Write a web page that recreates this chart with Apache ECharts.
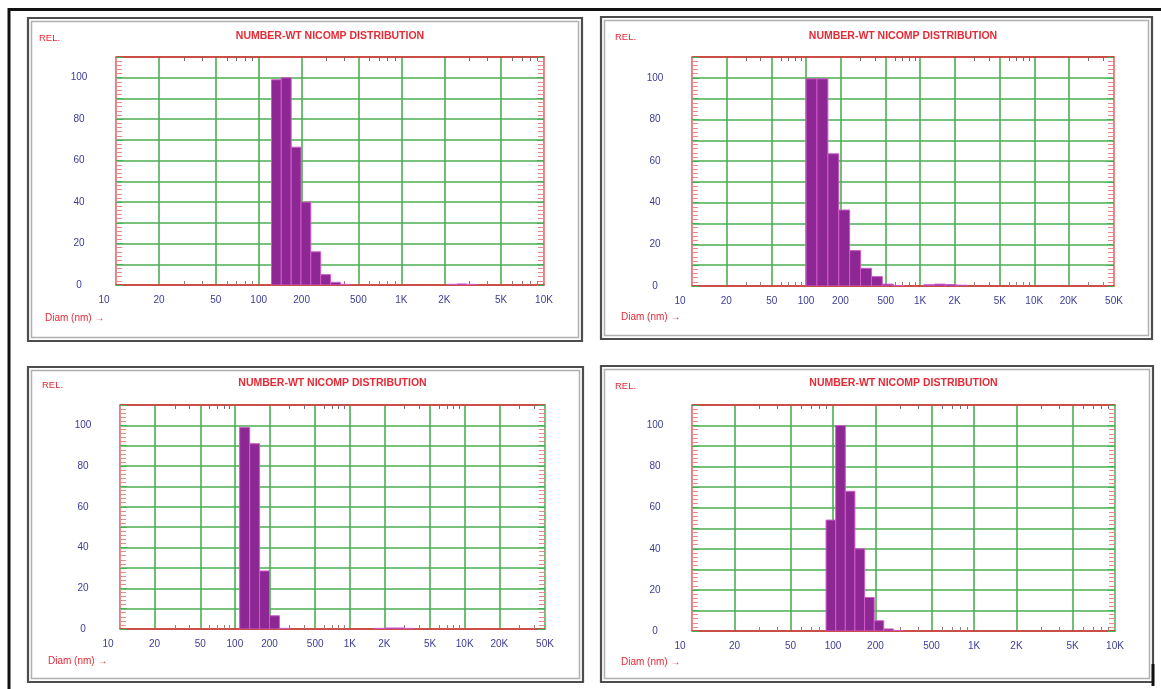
<!DOCTYPE html>
<html><head><meta charset="utf-8">
<script src="https://cdn.jsdelivr.net/npm/echarts@6/dist/echarts.min.js"></script>
<style>html,body{margin:0;padding:0;background:#fff}#c{width:1161px;height:689px}</style>
</head><body><div id="c"></div>
<script>
// ---------- texts ----------
const titleText = 'NUMBER-WT NICOMP DISTRIBUTION';
const yNameText = 'REL.';
const xNameText = 'Diam (nm) \u2192';

// ---------- tick labels ----------
const yTickLabels = [0, 20, 40, 60, 80, 100];
const xTicksTo10K = [10, 20, 50, 100, 200, 500, 1000, 2000, 5000, 10000];
const xTicksTo50K = [10, 20, 50, 100, 200, 500, 1000, 2000, 5000, 10000, 20000, 50000];

// ---------- panel 1 (top-left) : diameter bin edges (nm) and relative values ----------
const p1Edges = [123, 144, 169, 198, 232, 272, 319, 374, 438];
const p1Values = [99, 100, 66.5, 40, 16, 5, 1.3, 0.3];
const p1TailEdges = [2090, 2450, 2870, 3360];
const p1TailValues = [0.3, 0.5, 0.3];

// ---------- panel 2 (top-right) ----------
const p2Edges = [100, 124.6, 155.3, 193.5, 241, 300, 374, 466, 581, 724];
const p2Values = [99.5, 99.5, 63.5, 36.5, 17, 8.5, 4.5, 0.9, 0.2];
const p2TailEdges = [1070, 1333, 1661, 2070, 2580];
const p2TailValues = [0.6, 0.9, 0.7, 0.4];

// ---------- panel 3 (bottom-left) ----------
const p3Edges = [110, 134.5, 164, 200, 244, 298];
const p3Values = [99, 91, 28.5, 6.5, 0.3];
const p3TailEdges = [1630, 1990, 2430, 2960, 3610];
const p3TailValues = [0.3, 0.5, 0.5, 0.3];

// ---------- panel 4 (bottom-right) ----------
const p4Edges = [89.3, 104.5, 122.3, 143, 167.5, 196, 229, 268, 314];
const p4Values = [54, 100, 68, 40, 16.3, 5, 1, 0.2];
const p4TailEdges = [];
const p4TailValues = [];

// ---------- layout / style ----------
const FONT = '"Liberation Sans", Arial, sans-serif';
const RED = '#e62a36';
const BLUE = '#3c3c98';
const GREEN = '#4cae52';

const panels = [
  {edges: p1Edges, vals: p1Values, tEdges: p1TailEdges, tVals: p1TailValues, max: 10000, ticks: xTicksTo10K,
   grid: {left: 116, top: 57, width: 428, height: 228}, frame: [28, 18, 582, 341],
   relPos: [39, 38], diamPos: [45, 318], titleY: 36},
  {edges: p2Edges, vals: p2Values, tEdges: p2TailEdges, tVals: p2TailValues, max: 50000, ticks: xTicksTo50K,
   grid: {left: 692, top: 57, width: 422, height: 229}, frame: [601, 17, 1152, 339],
   relPos: [615, 37], diamPos: [621, 317], titleY: 36},
  {edges: p3Edges, vals: p3Values, tEdges: p3TailEdges, tVals: p3TailValues, max: 50000, ticks: xTicksTo50K,
   grid: {left: 120, top: 405, width: 425, height: 224}, frame: [28, 367, 583, 682],
   relPos: [42, 385], diamPos: [48, 661], titleY: 383},
  {edges: p4Edges, vals: p4Values, tEdges: p4TailEdges, tVals: p4TailValues, max: 10000, ticks: xTicksTo10K,
   grid: {left: 692, top: 405, width: 423, height: 226}, frame: [601, 366, 1153, 682],
   relPos: [615, 386], diamPos: [621, 662], titleY: 383}
];

function minorTicks(max) {
  const out = [];
  for (let d = 10; d < max; d *= 10) {
    [3, 4, 6, 7, 8, 9].forEach(m => { if (m * d < max) out.push(m * d); });
  }
  return out;
}
function fmtDiam(v) {
  if (v === 10) return '{first|10}';
  return v >= 1000 ? (v / 1000) + 'K' : String(v);
}
function binsOf(edges, vals) {
  const out = [];
  for (let i = 0; i < vals.length; i++) out.push([edges[i], edges[i + 1], vals[i]]);
  return out;
}

const grids = [], xAxes = [], yAxes = [], series = [], graphics = [];

panels.forEach((p, i) => {
  grids.push(Object.assign({show: false}, p.grid));
  const minors = minorTicks(p.max);
  // main bottom axis: labels + vertical grid lines
  xAxes.push({
    type: 'log', logBase: 10, min: 10, max: p.max, gridIndex: i, position: 'bottom',
    axisLine: {show: true, onZero: false, lineStyle: {color: RED, width: 1.5}},
    axisTick: {show: false, customValues: p.ticks},
    axisLabel: {customValues: p.ticks, formatter: fmtDiam, color: BLUE, fontSize: 10, fontFamily: FONT, margin: 10,
      rich: {first: {color: BLUE, fontSize: 10, fontFamily: FONT, padding: [0, 24, 0, 0]}}},
    splitLine: {show: true, lineStyle: {color: GREEN, width: 1.6}},
    minorTick: {show: false}, minorSplitLine: {show: false}
  });
  // bottom minor ticks
  xAxes.push({
    type: 'log', logBase: 10, min: 10, max: p.max, gridIndex: i, position: 'bottom',
    axisLine: {show: false},
    axisTick: {show: true, inside: true, length: 4, customValues: minors, lineStyle: {color: '#a07878'}},
    axisLabel: {show: false}, splitLine: {show: false}
  });
  // top edge with minor ticks
  xAxes.push({
    type: 'log', logBase: 10, min: 10, max: p.max, gridIndex: i, position: 'top',
    axisLine: {show: true, onZero: false, lineStyle: {color: RED, width: 1.5}},
    axisTick: {show: true, inside: true, length: 4, customValues: minors, lineStyle: {color: '#7a6a6a'}},
    axisLabel: {show: false}, splitLine: {show: false}
  });
  const yCommon = {
    type: 'value', min: 0, max: 110, interval: 10, gridIndex: i,
    axisLine: {show: true, onZero: false, lineStyle: {color: '#f08c8c', width: 1}},
    axisTick: {show: true, inside: true, length: 7, lineStyle: {color: GREEN}},
    minorTick: {show: true, splitNumber: 5, length: 6, lineStyle: {color: '#e58a8a'}}
  };
  yAxes.push(Object.assign({}, yCommon, {
    position: 'left',
    axisLabel: {color: BLUE, fontSize: 10, fontFamily: FONT, align: 'center', margin: 37,
      formatter: v => (yTickLabels.indexOf(v) >= 0 ? String(v) : '')},
    splitLine: {show: true, lineStyle: {color: GREEN, width: 1.6}}
  }));
  yAxes.push(Object.assign({}, yCommon, {
    position: 'right', axisLabel: {show: false}, splitLine: {show: false}
  }));

  const renderBar = (params, api) => {
    const a = api.coord([api.value(0), 0]);
    const b = api.coord([api.value(1), api.value(2)]);
    return {type: 'rect', shape: {x: a[0], y: b[1], width: b[0] - a[0], height: a[1] - b[1]},
      style: {fill: '#8c2794', stroke: '#d15ac6', lineWidth: 1}};
  };
  series.push({
    type: 'custom', xAxisIndex: 3 * i, yAxisIndex: 2 * i, renderItem: renderBar,
    encode: {x: [0, 1], y: 2}, data: binsOf(p.edges, p.vals).concat(binsOf(p.tEdges, p.tVals)),
    clip: true, silent: true, animation: false, z: 5
  });

  // frame
  const f = p.frame;
  graphics.push({type: 'rect', shape: {x: f[0], y: f[1], width: f[2] - f[0], height: f[3] - f[1]},
    style: {fill: 'none', stroke: '#4d4d4d', lineWidth: 2.2}, silent: true, z: 10});
  graphics.push({type: 'rect', shape: {x: f[0] + 3.5, y: f[1] + 3.5, width: f[2] - f[0] - 7, height: f[3] - f[1] - 7},
    style: {fill: 'none', stroke: '#b0b0b0', lineWidth: 1.5}, silent: true, z: 10});
  // texts
  graphics.push({type: 'text', x: p.grid.left + p.grid.width / 2, y: p.titleY, silent: true, z: 10,
    style: {text: titleText, fill: RED, fontSize: 10.5, fontWeight: 'bold', fontFamily: FONT, align: 'center', verticalAlign: 'middle'}});
  graphics.push({type: 'text', x: p.relPos[0], y: p.relPos[1], silent: true, z: 10,
    style: {text: yNameText, fill: RED, fontSize: 9.5, fontFamily: FONT, align: 'left', verticalAlign: 'middle'}});
  graphics.push({type: 'text', x: p.diamPos[0], y: p.diamPos[1], silent: true, z: 10,
    style: {text: xNameText, fill: RED, fontSize: 10, fontFamily: FONT, align: 'left', verticalAlign: 'middle'}});
});

// outer border of the figure (top and left)
graphics.push({type: 'polyline', shape: {points: [[9, 689], [9, 9.5], [1161, 9.5]]},
  style: {stroke: '#111', lineWidth: 3, fill: 'none'}, silent: true, z: 10});
graphics.push({type: 'line', shape: {x1: 1153, y1: 664, x2: 1153, y2: 686},
  style: {stroke: '#111', lineWidth: 3}, silent: true, z: 10});

const chart = echarts.init(document.getElementById('c'), null, {renderer: 'canvas'});
chart.setOption({
  backgroundColor: '#fff',
  animation: false,
  grid: grids, xAxis: xAxes, yAxis: yAxes, series: series, graphic: graphics
});
</script>
</body></html>
